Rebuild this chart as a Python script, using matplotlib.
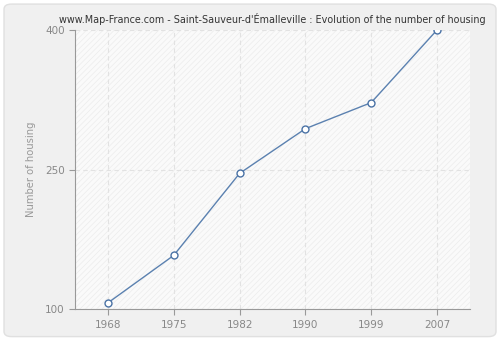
import matplotlib
matplotlib.use('Agg')
import matplotlib.pyplot as plt
from matplotlib.patches import FancyBboxPatch, Rectangle

years = ['1968', '1975', '1982', '1990', '1999', '2007']
housing = [107, 158, 246, 294, 322, 400]
yticks = [100, 250, 400]

plt.rcParams['hatch.linewidth'] = 0.5
plt.rcParams['hatch.color'] = '#e8e8e8'

fig = plt.figure(figsize=(5, 3.4), dpi=100)
fig.patch.set_facecolor('white')

# rounded grey frame around everything
frame = FancyBboxPatch((0.008, 0.01), 0.984, 0.978, boxstyle='round,pad=0,rounding_size=0.015',
                       transform=fig.transFigure, facecolor='#f0f0f0', edgecolor='#e0e0e0',
                       linewidth=1, zorder=-10)
fig.patches.append(frame)

ax = fig.add_axes([0.15, 0.09, 0.79, 0.822])
ax.set_facecolor('#fafafa')
ax.add_patch(Rectangle((0, 0), 1, 1, transform=ax.transAxes, facecolor='none',
                       hatch='//////', edgecolor='#ececec', linewidth=0, zorder=0))

x = range(len(years))
ax.plot(x, housing, color='#5b81b0', linewidth=1, marker='o', markersize=5,
        markerfacecolor='white', markeredgecolor='#4a72a5', markeredgewidth=1, zorder=3)

ax.set_xlim(-0.5, len(years) - 0.5)
ax.set_ylim(100, 400)
ax.set_xticks(list(x))
ax.set_xticklabels(years)
ax.set_yticks(yticks)

ax.grid(True, color='#e2e2e2', linestyle=(0, (4, 3)), linewidth=0.8)
ax.set_axisbelow(True)

for side in ['top', 'right']:
    ax.spines[side].set_visible(False)
for side in ['left', 'bottom']:
    ax.spines[side].set_color('#999999')
ax.tick_params(colors='#999999', labelcolor='#888888', labelsize=7.5, length=4, width=0.8)

ax.set_ylabel('Number of housing', color='#999999', fontsize=7.2, labelpad=6)
ax.set_title("www.Map-France.com - Saint-Sauveur-d'Émalleville : Evolution of the number of housing",
             fontsize=6.9, color='#333333', pad=5)

fig.savefig('out.png', dpi=100, facecolor=fig.get_facecolor())
